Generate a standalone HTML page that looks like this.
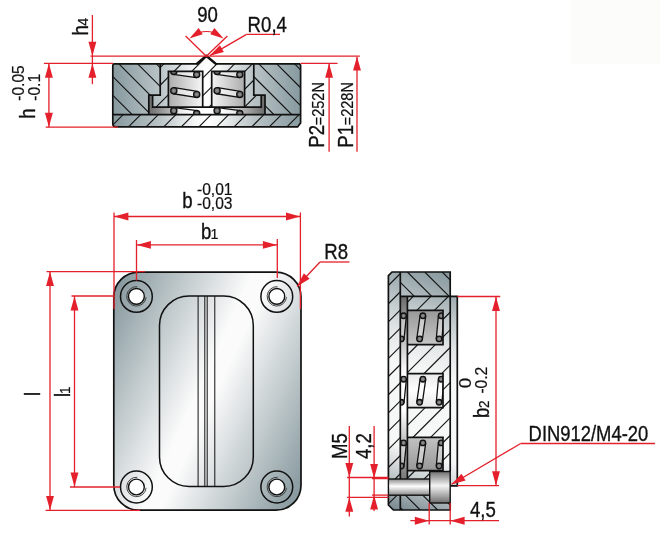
<!DOCTYPE html>
<html><head><meta charset="utf-8"><title>Drawing</title>
<style>
html,body{margin:0;padding:0;background:#fff;}
body{width:660px;height:537px;overflow:hidden;position:relative;}
svg{position:absolute;left:0;top:0;display:block;will-change:transform;}
text{font-family:"Liberation Sans",sans-serif;}
</style></head><body>
<svg width="660" height="537" viewBox="0 0 660 537">
<defs>
<linearGradient id="gTopBody" gradientUnits="userSpaceOnUse" x1="112.8" y1="0" x2="300.6" y2="0">
 <stop offset="0" stop-color="#879a9f"/><stop offset="0.25" stop-color="#b9c3c6"/><stop offset="0.43" stop-color="#f4f5f5"/><stop offset="0.5" stop-color="#ffffff"/><stop offset="0.57" stop-color="#f4f5f5"/><stop offset="0.75" stop-color="#b9c3c6"/><stop offset="1" stop-color="#879a9f"/>
</linearGradient>
<linearGradient id="gTopCup" gradientUnits="userSpaceOnUse" x1="148.6" y1="0" x2="265" y2="0">
 <stop offset="0" stop-color="#6a6a6a"/><stop offset="0.38" stop-color="#ffffff"/><stop offset="0.62" stop-color="#ffffff"/><stop offset="1" stop-color="#6a6a6a"/>
</linearGradient>
<linearGradient id="gTopPocket" gradientUnits="userSpaceOnUse" x1="160" y1="0" x2="253" y2="0">
 <stop offset="0" stop-color="#9a9a9a"/><stop offset="0.5" stop-color="#ffffff"/><stop offset="1" stop-color="#9a9a9a"/>
</linearGradient>
<linearGradient id="gPlate" gradientUnits="userSpaceOnUse" x1="85" y1="334" x2="329.8" y2="448.2">
 <stop offset="0" stop-color="#7f9298"/><stop offset="0.47" stop-color="#fbfbfb"/><stop offset="0.53" stop-color="#fbfbfb"/><stop offset="1" stop-color="#7f9298"/>
</linearGradient>
<linearGradient id="gSideBody" gradientUnits="userSpaceOnUse" x1="460" y1="272" x2="380" y2="510">
 <stop offset="0" stop-color="#82949a"/><stop offset="0.1" stop-color="#a0adb1"/><stop offset="0.2" stop-color="#c3cbce"/><stop offset="0.3" stop-color="#e1e5e6"/><stop offset="0.42" stop-color="#f6f7f7"/><stop offset="0.73" stop-color="#f6f7f7"/><stop offset="0.85" stop-color="#c0c8ca"/><stop offset="1" stop-color="#6e8087"/>
</linearGradient>
<linearGradient id="gSideCup" gradientUnits="userSpaceOnUse" x1="0" y1="296" x2="0" y2="486">
 <stop offset="0" stop-color="#6a6a6a"/><stop offset="0.4" stop-color="#ffffff"/><stop offset="0.6" stop-color="#ffffff"/><stop offset="1" stop-color="#6a6a6a"/>
</linearGradient>
<linearGradient id="gSidePocket" gradientUnits="userSpaceOnUse" x1="0" y1="300" x2="0" y2="480">
 <stop offset="0" stop-color="#8c8c8c"/><stop offset="0.5" stop-color="#ffffff"/><stop offset="1" stop-color="#8c8c8c"/>
</linearGradient>
<linearGradient id="gShaft" gradientUnits="userSpaceOnUse" x1="0" y1="479" x2="0" y2="495.2">
 <stop offset="0" stop-color="#8a8a8a"/><stop offset="0.45" stop-color="#ffffff"/><stop offset="1" stop-color="#8a8a8a"/>
</linearGradient>
<linearGradient id="gHead" gradientUnits="userSpaceOnUse" x1="0" y1="471.5" x2="0" y2="503">
 <stop offset="0" stop-color="#6e6e6e"/><stop offset="0.45" stop-color="#f4f4f4"/><stop offset="1" stop-color="#6e6e6e"/>
</linearGradient>
<radialGradient id="gWire" cx="0.5" cy="0.5" r="0.5">
 <stop offset="0" stop-color="#9a9a9a"/><stop offset="1" stop-color="#585858"/>
</radialGradient>

<clipPath id="cBody"><path d="M112.8,65.4 Q112.8,63.9 114.3,63.9 L196.9,63.9 L206.3,56.0 L215.7,63.9 L299.40000000000003,63.9 L300.6,65.1 L300.6,122.9 L297.6,126.9 L116.0,126.9 Q112.8,126.9 112.8,123.7 Z"/></clipPath>
<clipPath id="cTopBase"><polygon points="112.8,114.7 300.6,114.7 300.6,126.9 112.8,126.9"/></clipPath>
<clipPath id="cTopLout"><polygon points="112.8,63.9 160.2,63.9 160.2,95.1 148.8,95.1 148.8,114.7 112.8,114.7"/></clipPath>
<clipPath id="cTopRout"><polygon points="300.6,63.9 253.8,63.9 253.8,95.1 265,95.1 265,114.7 300.6,114.7"/></clipPath>
<clipPath id="cTopInner"><path clip-rule="evenodd" d="M160.2,63.9 L196.9,63.9 L206.3,56.0 L215.7,63.9 L253.8,63.9 L253.8,95.1 L261.2,95.1 L261.2,107.1 L152.6,107.1 L152.6,95.1 L160.2,95.1 Z M168.4,71.4 L202.7,71.4 L202.7,107.1 L168.4,107.1 Z M211.7,71.4 L244.6,71.4 L244.6,107.1 L211.7,107.1 Z"/></clipPath>
<clipPath id="cTopPockL"><rect x="168.4" y="71.4" width="34.29999999999998" height="43.3"/></clipPath>
<clipPath id="cTopPockR"><rect x="211.7" y="71.4" width="32.900000000000006" height="43.3"/></clipPath>
<clipPath id="cSideBase"><polygon points="388.4,275.6 392,272 400.3,272 400.3,510 393.4,510 388.4,505"/></clipPath>
<clipPath id="cSideTopOut"><rect x="400.3" y="272" width="49.9" height="24.4"/></clipPath>
<clipPath id="cSideBotOut"><path d="M400.3,495.2 L429.7,495.2 L429.7,503 L450.2,503 L450.2,510 L400.3,510 Z"/></clipPath>
<clipPath id="cSideInner"><path clip-rule="evenodd" d="M407.4,296.4 L450.2,296.4 L450.2,486 L407.4,486 Z M407.4,310.3 L443,310.3 L443,344.7 L407.4,344.7 Z M407.4,373.7 L443,373.7 L443,407.7 L407.4,407.7 Z M407.4,437.4 L443,437.4 L443,470.6 L407.4,470.6 Z"/></clipPath>
<clipPath id="cSidePock0"><rect x="400.3" y="310.3" width="42.69999999999999" height="34.39999999999998"/></clipPath>
<clipPath id="cSidePock1"><rect x="400.3" y="373.7" width="42.69999999999999" height="34.0"/></clipPath>
<clipPath id="cSidePock2"><rect x="400.3" y="437.4" width="42.69999999999999" height="33.200000000000045"/></clipPath>
</defs>
<rect x="571" y="0" width="89" height="64" fill="#fcfcfa"/>
<g id="topview">
<g clip-path="url(#cBody)">
<polygon points="112.8,114.7 300.6,114.7 300.6,126.9 112.8,126.9" fill="url(#gTopBody)"/>
<polygon points="112.8,63.9 160.2,63.9 160.2,95.1 148.8,95.1 148.8,114.7 112.8,114.7" fill="url(#gTopBody)"/>
<polygon points="300.6,63.9 253.8,63.9 253.8,95.1 265,95.1 265,114.7 300.6,114.7" fill="url(#gTopBody)"/>
<polygon points="160.2,63.9 196.9,63.9 206.3,56.0 215.7,63.9 253.8,63.9 253.8,95.1 261.2,95.1 261.2,107.1 152.6,107.1 152.6,95.1 160.2,95.1" fill="url(#gTopBody)"/>
<polygon points="148.8,95.1 152.6,95.1 152.6,107.1 261.2,107.1 261.2,95.1 265,95.1 265,114.7 148.8,114.7" fill="url(#gTopCup)"/>
<rect x="168.4" y="71.4" width="34.29999999999998" height="35.69999999999999" fill="url(#gTopPocket)"/>
<rect x="211.7" y="71.4" width="32.900000000000006" height="35.69999999999999" fill="url(#gTopPocket)"/>
<g clip-path="url(#cTopBase)" stroke="#111111" stroke-width="1.1" fill="none"><line x1="52.70" y1="114.7" x2="40.50" y2="126.9"/><line x1="70.30" y1="114.7" x2="58.10" y2="126.9"/><line x1="87.90" y1="114.7" x2="75.70" y2="126.9"/><line x1="105.50" y1="114.7" x2="93.30" y2="126.9"/><line x1="123.10" y1="114.7" x2="110.90" y2="126.9"/><line x1="140.70" y1="114.7" x2="128.50" y2="126.9"/><line x1="158.30" y1="114.7" x2="146.10" y2="126.9"/><line x1="175.90" y1="114.7" x2="163.70" y2="126.9"/><line x1="193.50" y1="114.7" x2="181.30" y2="126.9"/><line x1="211.10" y1="114.7" x2="198.90" y2="126.9"/><line x1="228.70" y1="114.7" x2="216.50" y2="126.9"/><line x1="246.30" y1="114.7" x2="234.10" y2="126.9"/><line x1="263.90" y1="114.7" x2="251.70" y2="126.9"/><line x1="281.50" y1="114.7" x2="269.30" y2="126.9"/><line x1="299.10" y1="114.7" x2="286.90" y2="126.9"/><line x1="316.70" y1="114.7" x2="304.50" y2="126.9"/><line x1="334.30" y1="114.7" x2="322.10" y2="126.9"/></g>
<g clip-path="url(#cTopLout)" stroke="#111111" stroke-width="1.1" fill="none"><line x1="6.40" y1="63.9" x2="57.20" y2="114.7"/><line x1="25.15" y1="63.9" x2="75.95" y2="114.7"/><line x1="43.90" y1="63.9" x2="94.70" y2="114.7"/><line x1="62.65" y1="63.9" x2="113.45" y2="114.7"/><line x1="81.40" y1="63.9" x2="132.20" y2="114.7"/><line x1="100.15" y1="63.9" x2="150.95" y2="114.7"/><line x1="118.90" y1="63.9" x2="169.70" y2="114.7"/><line x1="137.65" y1="63.9" x2="188.45" y2="114.7"/><line x1="156.40" y1="63.9" x2="207.20" y2="114.7"/><line x1="175.15" y1="63.9" x2="225.95" y2="114.7"/><line x1="193.90" y1="63.9" x2="244.70" y2="114.7"/><line x1="212.65" y1="63.9" x2="263.45" y2="114.7"/><line x1="231.40" y1="63.9" x2="282.20" y2="114.7"/></g>
<g clip-path="url(#cTopRout)" stroke="#111111" stroke-width="1.1" fill="none"><line x1="151.80" y1="63.9" x2="202.60" y2="114.7"/><line x1="169.65" y1="63.9" x2="220.45" y2="114.7"/><line x1="187.50" y1="63.9" x2="238.30" y2="114.7"/><line x1="205.35" y1="63.9" x2="256.15" y2="114.7"/><line x1="223.20" y1="63.9" x2="274.00" y2="114.7"/><line x1="241.05" y1="63.9" x2="291.85" y2="114.7"/><line x1="258.90" y1="63.9" x2="309.70" y2="114.7"/><line x1="276.75" y1="63.9" x2="327.55" y2="114.7"/><line x1="294.60" y1="63.9" x2="345.40" y2="114.7"/><line x1="312.45" y1="63.9" x2="363.25" y2="114.7"/><line x1="330.30" y1="63.9" x2="381.10" y2="114.7"/><line x1="348.15" y1="63.9" x2="398.95" y2="114.7"/><line x1="366.00" y1="63.9" x2="416.80" y2="114.7"/><line x1="383.85" y1="63.9" x2="434.65" y2="114.7"/></g>
<g clip-path="url(#cTopInner)" stroke="#111111" stroke-width="1.1" fill="none"><line x1="49.80" y1="54" x2="-3.30" y2="107.1"/><line x1="67.50" y1="54" x2="14.40" y2="107.1"/><line x1="85.20" y1="54" x2="32.10" y2="107.1"/><line x1="102.90" y1="54" x2="49.80" y2="107.1"/><line x1="120.60" y1="54" x2="67.50" y2="107.1"/><line x1="138.30" y1="54" x2="85.20" y2="107.1"/><line x1="156.00" y1="54" x2="102.90" y2="107.1"/><line x1="173.70" y1="54" x2="120.60" y2="107.1"/><line x1="191.40" y1="54" x2="138.30" y2="107.1"/><line x1="209.10" y1="54" x2="156.00" y2="107.1"/><line x1="226.80" y1="54" x2="173.70" y2="107.1"/><line x1="244.50" y1="54" x2="191.40" y2="107.1"/><line x1="262.20" y1="54" x2="209.10" y2="107.1"/><line x1="279.90" y1="54" x2="226.80" y2="107.1"/><line x1="297.60" y1="54" x2="244.50" y2="107.1"/><line x1="315.30" y1="54" x2="262.20" y2="107.1"/><line x1="333.00" y1="54" x2="279.90" y2="107.1"/></g>
</g>
<g clip-path="url(#cTopPockL)"><polygon points="173.37,74.47 196.27,77.67 197.13,71.53 174.23,68.33" fill="rgba(255,255,255,0.5)" stroke="#111111" stroke-width="1.3" stroke-linejoin="round"/><polygon points="173.31,93.76 196.21,97.46 197.19,91.34 174.29,87.64" fill="rgba(255,255,255,0.5)" stroke="#111111" stroke-width="1.3" stroke-linejoin="round"/><polygon points="173.41,113.78 196.31,116.68 197.09,110.52 174.19,107.62" fill="rgba(255,255,255,0.5)" stroke="#111111" stroke-width="1.3" stroke-linejoin="round"/><circle cx="173.8" cy="71.4" r="3.1" fill="url(#gWire)" stroke="#111111" stroke-width="1.3"/><circle cx="173.8" cy="90.7" r="3.1" fill="url(#gWire)" stroke="#111111" stroke-width="1.3"/><circle cx="173.8" cy="110.7" r="3.1" fill="url(#gWire)" stroke="#111111" stroke-width="1.3"/><circle cx="196.7" cy="74.6" r="3.1" fill="url(#gWire)" stroke="#111111" stroke-width="1.3"/><circle cx="196.7" cy="94.4" r="3.1" fill="url(#gWire)" stroke="#111111" stroke-width="1.3"/><circle cx="196.7" cy="113.6" r="3.1" fill="url(#gWire)" stroke="#111111" stroke-width="1.3"/></g>
<g clip-path="url(#cTopPockR)"><polygon points="216.67,74.47 239.37,77.67 240.23,71.53 217.53,68.33" fill="rgba(255,255,255,0.5)" stroke="#111111" stroke-width="1.3" stroke-linejoin="round"/><polygon points="216.60,93.76 239.30,97.46 240.30,91.34 217.60,87.64" fill="rgba(255,255,255,0.5)" stroke="#111111" stroke-width="1.3" stroke-linejoin="round"/><polygon points="216.71,113.78 239.41,116.68 240.19,110.52 217.49,107.62" fill="rgba(255,255,255,0.5)" stroke="#111111" stroke-width="1.3" stroke-linejoin="round"/><circle cx="217.1" cy="71.4" r="3.1" fill="url(#gWire)" stroke="#111111" stroke-width="1.3"/><circle cx="217.1" cy="90.7" r="3.1" fill="url(#gWire)" stroke="#111111" stroke-width="1.3"/><circle cx="217.1" cy="110.7" r="3.1" fill="url(#gWire)" stroke="#111111" stroke-width="1.3"/><circle cx="239.8" cy="74.6" r="3.1" fill="url(#gWire)" stroke="#111111" stroke-width="1.3"/><circle cx="239.8" cy="94.4" r="3.1" fill="url(#gWire)" stroke="#111111" stroke-width="1.3"/><circle cx="239.8" cy="113.6" r="3.1" fill="url(#gWire)" stroke="#111111" stroke-width="1.3"/></g>
<g fill="none" stroke="#111111" stroke-width="1.7" stroke-linejoin="miter">
<path d="M112.8,65.4 Q112.8,63.9 114.3,63.9 L196.9,63.9 L206.3,56.0 L215.7,63.9 L299.40000000000003,63.9 L300.6,65.1 L300.6,122.9 L297.6,126.9 L116.0,126.9 Q112.8,126.9 112.8,123.7 Z"/>
<path d="M112.8,114.7 L300.6,114.7"/>
<path d="M160.2,63.9 L160.2,95.1 L148.8,95.1 L148.8,114.7"/>
<path d="M253.8,63.9 L253.8,95.1 L265,95.1 L265,114.7"/>
<path d="M152.6,95.1 L152.6,107.1 L261.2,107.1 L261.2,95.1"/>
<path d="M168.4,107.1 L168.4,71.4 L202.7,71.4 L202.7,107.1 M211.7,107.1 L211.7,71.4 L244.6,71.4 L244.6,107.1"/>
</g>
<path d="M196.4,64.2 L206.3,55.8 L216.2,64.2" fill="none" stroke="#111111" stroke-width="2.3" stroke-linejoin="miter"/>
</g>
<g id="topdims">
<line x1="90.4" y1="56.2" x2="359.8" y2="56.2" stroke="#e3202b" stroke-width="1.3"/>
<line x1="43.9" y1="63.4" x2="113" y2="63.4" stroke="#e3202b" stroke-width="1.3"/>
<line x1="300.5" y1="63.4" x2="337.6" y2="63.4" stroke="#e3202b" stroke-width="1.3"/>
<line x1="45.7" y1="127.2" x2="118" y2="127.2" stroke="#e3202b" stroke-width="1.3"/>
<line x1="48.9" y1="63.4" x2="48.9" y2="127.2" stroke="#e3202b" stroke-width="1.3"/>
<polygon points="48.90,63.60 52.85,77.80 44.95,77.80" fill="#e3202b"/>
<polygon points="48.90,127.00 44.95,112.80 52.85,112.80" fill="#e3202b"/>
<line x1="92.4" y1="15" x2="92.4" y2="84.2" stroke="#e3202b" stroke-width="1.3"/>
<polygon points="92.40,56.00 88.45,41.80 96.35,41.80" fill="#e3202b"/>
<polygon points="92.40,63.60 96.35,77.80 88.45,77.80" fill="#e3202b"/>
<line x1="329.1" y1="64" x2="329.1" y2="151.7" stroke="#e3202b" stroke-width="1.3"/>
<polygon points="329.10,63.60 333.05,77.80 325.15,77.80" fill="#e3202b"/>
<line x1="357" y1="57" x2="357" y2="151.7" stroke="#e3202b" stroke-width="1.3"/>
<polygon points="357.00,56.40 360.95,70.60 353.05,70.60" fill="#e3202b"/>
<line x1="206.3" y1="56.2" x2="185.6" y2="36.0" stroke="#e3202b" stroke-width="1.3"/>
<line x1="206.3" y1="56.2" x2="227.4" y2="36.0" stroke="#e3202b" stroke-width="1.3"/>
<path d="M193,35.5 A25,25 0 0 1 220,35.5" fill="none" stroke="#e3202b" stroke-width="1.15"/>
<polygon points="189.40,38.60 198.63,28.08 202.71,34.25" fill="#e3202b"/>
<polygon points="223.60,38.60 210.29,34.25 214.37,28.08" fill="#e3202b"/>
<line x1="246.5" y1="34.4" x2="280" y2="34.4" stroke="#e3202b" stroke-width="1.3"/>
<line x1="246.5" y1="34.4" x2="209.9" y2="55.6" stroke="#e3202b" stroke-width="1.3"/>
<polygon points="209.60,55.80 219.91,45.26 223.87,52.10" fill="#e3202b"/>
</g>
<g id="plate">
<rect x="113.8" y="272.1" width="187.2" height="238.1" rx="25" ry="25" fill="url(#gPlate)" stroke="#111111" stroke-width="1.7"/>
<rect x="159.5" y="296" width="93.8" height="190.4" rx="29.5" ry="29.5" fill="none" stroke="#111111" stroke-width="1.5"/>
<line x1="198.1" y1="296" x2="198.1" y2="486.4" stroke="#111111" stroke-width="1.0"/>
<line x1="204.8" y1="296" x2="204.8" y2="486.4" stroke="#111111" stroke-width="1.0"/>
<line x1="207.2" y1="296" x2="207.2" y2="486.4" stroke="#111111" stroke-width="1.0"/>
<line x1="214.8" y1="296" x2="214.8" y2="486.4" stroke="#111111" stroke-width="1.0"/>
<circle cx="136.4" cy="296.4" r="15.9" fill="none" stroke="#111111" stroke-width="1.5"/>
<path d="M137.20,286.70 A9.7,9.7 0 1 0 146.10,297.20" fill="none" stroke="#333" stroke-width="0.9"/>
<circle cx="136.4" cy="296.4" r="7.9" fill="#ffffff" stroke="#111111" stroke-width="1.4"/>
<circle cx="276.8" cy="296.4" r="15.9" fill="none" stroke="#111111" stroke-width="1.5"/>
<path d="M277.60,286.70 A9.7,9.7 0 1 0 286.50,297.20" fill="none" stroke="#333" stroke-width="0.9"/>
<circle cx="276.8" cy="296.4" r="7.9" fill="#ffffff" stroke="#111111" stroke-width="1.4"/>
<circle cx="136.4" cy="487" r="15.9" fill="none" stroke="#111111" stroke-width="1.5"/>
<path d="M137.20,477.30 A9.7,9.7 0 1 0 146.10,487.80" fill="none" stroke="#333" stroke-width="0.9"/>
<circle cx="136.4" cy="487" r="7.9" fill="#ffffff" stroke="#111111" stroke-width="1.4"/>
<circle cx="276.8" cy="487" r="15.9" fill="none" stroke="#111111" stroke-width="1.5"/>
<path d="M277.60,477.30 A9.7,9.7 0 1 0 286.50,487.80" fill="none" stroke="#333" stroke-width="0.9"/>
<circle cx="276.8" cy="487" r="7.9" fill="#ffffff" stroke="#111111" stroke-width="1.4"/>
</g>
<g id="platedims">
<line x1="114" y1="212.5" x2="114" y2="309" stroke="#e3202b" stroke-width="1.3"/>
<line x1="300.4" y1="212.5" x2="300.4" y2="309" stroke="#e3202b" stroke-width="1.3"/>
<line x1="114" y1="216.5" x2="300.4" y2="216.5" stroke="#e3202b" stroke-width="1.3"/>
<polygon points="114.20,216.50 128.40,212.55 128.40,220.45" fill="#e3202b"/>
<polygon points="300.20,216.50 286.00,220.45 286.00,212.55" fill="#e3202b"/>
<line x1="136.5" y1="240" x2="136.5" y2="280.5" stroke="#e3202b" stroke-width="1.3"/>
<line x1="277.3" y1="239" x2="277.3" y2="278" stroke="#e3202b" stroke-width="1.3"/>
<line x1="136.5" y1="244.9" x2="277.3" y2="244.9" stroke="#e3202b" stroke-width="1.3"/>
<polygon points="136.70,244.90 150.90,240.95 150.90,248.85" fill="#e3202b"/>
<polygon points="277.10,244.90 262.90,248.85 262.90,240.95" fill="#e3202b"/>
<line x1="46.5" y1="271.6" x2="145" y2="271.6" stroke="#e3202b" stroke-width="1.3"/>
<line x1="45.5" y1="510.3" x2="140" y2="510.3" stroke="#e3202b" stroke-width="1.3"/>
<line x1="50" y1="271.6" x2="50" y2="510.3" stroke="#e3202b" stroke-width="1.3"/>
<polygon points="50.00,271.80 53.95,286.00 46.05,286.00" fill="#e3202b"/>
<polygon points="50.00,510.10 46.05,495.90 53.95,495.90" fill="#e3202b"/>
<line x1="71.5" y1="296" x2="114" y2="296" stroke="#e3202b" stroke-width="1.3"/>
<line x1="70" y1="487" x2="120" y2="487" stroke="#e3202b" stroke-width="1.3"/>
<line x1="74.5" y1="296" x2="74.5" y2="487" stroke="#e3202b" stroke-width="1.3"/>
<polygon points="74.50,296.20 78.45,310.40 70.55,310.40" fill="#e3202b"/>
<polygon points="74.50,486.80 70.55,472.60 78.45,472.60" fill="#e3202b"/>
<line x1="320" y1="262" x2="349.5" y2="262" stroke="#e3202b" stroke-width="1.3"/>
<line x1="320" y1="262" x2="297.2" y2="286.2" stroke="#e3202b" stroke-width="1.3"/>
<polygon points="297.00,286.40 303.86,273.36 309.61,278.77" fill="#e3202b"/>
</g>
<g id="sideview">
<polygon points="388.4,275.6 392,272 400.3,272 400.3,510 393.4,510 388.4,505" fill="url(#gSideBody)"/>
<rect x="400.3" y="272" width="49.9" height="24.4" fill="url(#gSideBody)"/>
<rect x="400.3" y="486" width="49.9" height="24" fill="url(#gSideBody)"/>
<rect x="407.4" y="296.4" width="49.9" height="189.4" fill="url(#gSideBody)"/>
<rect x="400.3" y="296.4" width="7.1" height="189.6" fill="url(#gSideCup)"/>
<rect x="407.4" y="310.3" width="35.6" height="34.39999999999998" fill="url(#gSidePocket)"/>
<rect x="407.4" y="373.7" width="35.6" height="34.0" fill="url(#gSidePocket)"/>
<rect x="407.4" y="437.4" width="35.6" height="33.200000000000045" fill="url(#gSidePocket)"/>
<g clip-path="url(#cSideBase)" stroke="#111111" stroke-width="1.1" fill="none"><line x1="110.70" y1="272" x2="-127.30" y2="510"/><line x1="128.90" y1="272" x2="-109.10" y2="510"/><line x1="147.10" y1="272" x2="-90.90" y2="510"/><line x1="165.30" y1="272" x2="-72.70" y2="510"/><line x1="183.50" y1="272" x2="-54.50" y2="510"/><line x1="201.70" y1="272" x2="-36.30" y2="510"/><line x1="219.90" y1="272" x2="-18.10" y2="510"/><line x1="238.10" y1="272" x2="0.10" y2="510"/><line x1="256.30" y1="272" x2="18.30" y2="510"/><line x1="274.50" y1="272" x2="36.50" y2="510"/><line x1="292.70" y1="272" x2="54.70" y2="510"/><line x1="310.90" y1="272" x2="72.90" y2="510"/><line x1="329.10" y1="272" x2="91.10" y2="510"/><line x1="347.30" y1="272" x2="109.30" y2="510"/><line x1="365.50" y1="272" x2="127.50" y2="510"/><line x1="383.70" y1="272" x2="145.70" y2="510"/><line x1="401.90" y1="272" x2="163.90" y2="510"/><line x1="420.10" y1="272" x2="182.10" y2="510"/><line x1="438.30" y1="272" x2="200.30" y2="510"/><line x1="456.50" y1="272" x2="218.50" y2="510"/><line x1="474.70" y1="272" x2="236.70" y2="510"/><line x1="492.90" y1="272" x2="254.90" y2="510"/><line x1="511.10" y1="272" x2="273.10" y2="510"/><line x1="529.30" y1="272" x2="291.30" y2="510"/><line x1="547.50" y1="272" x2="309.50" y2="510"/><line x1="565.70" y1="272" x2="327.70" y2="510"/><line x1="583.90" y1="272" x2="345.90" y2="510"/><line x1="602.10" y1="272" x2="364.10" y2="510"/><line x1="620.30" y1="272" x2="382.30" y2="510"/><line x1="638.50" y1="272" x2="400.50" y2="510"/><line x1="656.70" y1="272" x2="418.70" y2="510"/><line x1="674.90" y1="272" x2="436.90" y2="510"/></g>
<g clip-path="url(#cSideTopOut)" stroke="#111111" stroke-width="1.1" fill="none"><line x1="337.80" y1="272" x2="362.20" y2="296.4"/><line x1="355.20" y1="272" x2="379.60" y2="296.4"/><line x1="372.60" y1="272" x2="397.00" y2="296.4"/><line x1="390.00" y1="272" x2="414.40" y2="296.4"/><line x1="407.40" y1="272" x2="431.80" y2="296.4"/><line x1="424.80" y1="272" x2="449.20" y2="296.4"/><line x1="442.20" y1="272" x2="466.60" y2="296.4"/><line x1="459.60" y1="272" x2="484.00" y2="296.4"/><line x1="477.00" y1="272" x2="501.40" y2="296.4"/><line x1="494.40" y1="272" x2="518.80" y2="296.4"/></g>
<g clip-path="url(#cSideBotOut)" stroke="#111111" stroke-width="1.1" fill="none"><line x1="326.60" y1="486" x2="350.60" y2="510"/><line x1="344.00" y1="486" x2="368.00" y2="510"/><line x1="361.40" y1="486" x2="385.40" y2="510"/><line x1="378.80" y1="486" x2="402.80" y2="510"/><line x1="396.20" y1="486" x2="420.20" y2="510"/><line x1="413.60" y1="486" x2="437.60" y2="510"/><line x1="431.00" y1="486" x2="455.00" y2="510"/><line x1="448.40" y1="486" x2="472.40" y2="510"/><line x1="465.80" y1="486" x2="489.80" y2="510"/><line x1="483.20" y1="486" x2="507.20" y2="510"/><line x1="500.60" y1="486" x2="524.60" y2="510"/></g>
<g clip-path="url(#cSideInner)" stroke="#111111" stroke-width="1.1" fill="none"><line x1="166.80" y1="296.4" x2="-22.80" y2="486"/><line x1="184.40" y1="296.4" x2="-5.20" y2="486"/><line x1="202.00" y1="296.4" x2="12.40" y2="486"/><line x1="219.60" y1="296.4" x2="30.00" y2="486"/><line x1="237.20" y1="296.4" x2="47.60" y2="486"/><line x1="254.80" y1="296.4" x2="65.20" y2="486"/><line x1="272.40" y1="296.4" x2="82.80" y2="486"/><line x1="290.00" y1="296.4" x2="100.40" y2="486"/><line x1="307.60" y1="296.4" x2="118.00" y2="486"/><line x1="325.20" y1="296.4" x2="135.60" y2="486"/><line x1="342.80" y1="296.4" x2="153.20" y2="486"/><line x1="360.40" y1="296.4" x2="170.80" y2="486"/><line x1="378.00" y1="296.4" x2="188.40" y2="486"/><line x1="395.60" y1="296.4" x2="206.00" y2="486"/><line x1="413.20" y1="296.4" x2="223.60" y2="486"/><line x1="430.80" y1="296.4" x2="241.20" y2="486"/><line x1="448.40" y1="296.4" x2="258.80" y2="486"/><line x1="466.00" y1="296.4" x2="276.40" y2="486"/><line x1="483.60" y1="296.4" x2="294.00" y2="486"/><line x1="501.20" y1="296.4" x2="311.60" y2="486"/><line x1="518.80" y1="296.4" x2="329.20" y2="486"/><line x1="536.40" y1="296.4" x2="346.80" y2="486"/><line x1="554.00" y1="296.4" x2="364.40" y2="486"/><line x1="571.60" y1="296.4" x2="382.00" y2="486"/><line x1="589.20" y1="296.4" x2="399.60" y2="486"/><line x1="606.80" y1="296.4" x2="417.20" y2="486"/><line x1="624.40" y1="296.4" x2="434.80" y2="486"/><line x1="642.00" y1="296.4" x2="452.40" y2="486"/><line x1="659.60" y1="296.4" x2="470.00" y2="486"/></g>
<g clip-path="url(#cSidePock0)"><polygon points="400.81,315.51 398.41,338.61 403.99,339.19 406.39,316.09" fill="rgba(255,255,255,0.4)" stroke="#111111" stroke-width="1.3" stroke-linejoin="round"/><polygon points="420.13,315.40 416.83,338.50 422.37,339.30 425.67,316.20" fill="rgba(255,255,255,0.4)" stroke="#111111" stroke-width="1.3" stroke-linejoin="round"/><polygon points="438.41,315.55 436.31,338.65 441.89,339.15 443.99,316.05" fill="rgba(255,255,255,0.4)" stroke="#111111" stroke-width="1.3" stroke-linejoin="round"/><circle cx="403.6" cy="315.8" r="2.8" fill="url(#gWire)" stroke="#111111" stroke-width="1.3"/><circle cx="422.9" cy="315.8" r="2.8" fill="url(#gWire)" stroke="#111111" stroke-width="1.3"/><circle cx="441.2" cy="315.8" r="2.8" fill="url(#gWire)" stroke="#111111" stroke-width="1.3"/><circle cx="401.2" cy="338.90000000000003" r="2.8" fill="url(#gWire)" stroke="#111111" stroke-width="1.3"/><circle cx="419.6" cy="338.90000000000003" r="2.8" fill="url(#gWire)" stroke="#111111" stroke-width="1.3"/><circle cx="439.1" cy="338.90000000000003" r="2.8" fill="url(#gWire)" stroke="#111111" stroke-width="1.3"/></g>
<g clip-path="url(#cSidePock1)"><polygon points="400.81,378.91 398.41,402.01 403.99,402.59 406.39,379.49" fill="rgba(255,255,255,0.4)" stroke="#111111" stroke-width="1.3" stroke-linejoin="round"/><polygon points="420.13,378.80 416.83,401.90 422.37,402.70 425.67,379.60" fill="rgba(255,255,255,0.4)" stroke="#111111" stroke-width="1.3" stroke-linejoin="round"/><polygon points="438.41,378.95 436.31,402.05 441.89,402.55 443.99,379.45" fill="rgba(255,255,255,0.4)" stroke="#111111" stroke-width="1.3" stroke-linejoin="round"/><circle cx="403.6" cy="379.2" r="2.8" fill="url(#gWire)" stroke="#111111" stroke-width="1.3"/><circle cx="422.9" cy="379.2" r="2.8" fill="url(#gWire)" stroke="#111111" stroke-width="1.3"/><circle cx="441.2" cy="379.2" r="2.8" fill="url(#gWire)" stroke="#111111" stroke-width="1.3"/><circle cx="401.2" cy="402.3" r="2.8" fill="url(#gWire)" stroke="#111111" stroke-width="1.3"/><circle cx="419.6" cy="402.3" r="2.8" fill="url(#gWire)" stroke="#111111" stroke-width="1.3"/><circle cx="439.1" cy="402.3" r="2.8" fill="url(#gWire)" stroke="#111111" stroke-width="1.3"/></g>
<g clip-path="url(#cSidePock2)"><polygon points="400.81,442.61 398.41,465.71 403.99,466.29 406.39,443.19" fill="rgba(255,255,255,0.4)" stroke="#111111" stroke-width="1.3" stroke-linejoin="round"/><polygon points="420.13,442.50 416.83,465.60 422.37,466.40 425.67,443.30" fill="rgba(255,255,255,0.4)" stroke="#111111" stroke-width="1.3" stroke-linejoin="round"/><polygon points="438.41,442.65 436.31,465.75 441.89,466.25 443.99,443.15" fill="rgba(255,255,255,0.4)" stroke="#111111" stroke-width="1.3" stroke-linejoin="round"/><circle cx="403.6" cy="442.9" r="2.8" fill="url(#gWire)" stroke="#111111" stroke-width="1.3"/><circle cx="422.9" cy="442.9" r="2.8" fill="url(#gWire)" stroke="#111111" stroke-width="1.3"/><circle cx="441.2" cy="442.9" r="2.8" fill="url(#gWire)" stroke="#111111" stroke-width="1.3"/><circle cx="401.2" cy="466.0" r="2.8" fill="url(#gWire)" stroke="#111111" stroke-width="1.3"/><circle cx="419.6" cy="466.0" r="2.8" fill="url(#gWire)" stroke="#111111" stroke-width="1.3"/><circle cx="439.1" cy="466.0" r="2.8" fill="url(#gWire)" stroke="#111111" stroke-width="1.3"/></g>
<rect x="388.4" y="479" width="41.3" height="16.2" fill="url(#gShaft)" stroke="#111111" stroke-width="1.4"/>
<rect x="429.7" y="471.5" width="20.5" height="31.5" fill="url(#gHead)" stroke="#111111" stroke-width="1.4"/>
<g fill="none" stroke="#111111" stroke-width="1.7" stroke-linejoin="miter">
<path d="M388.4,479 L388.4,275.6 L392,272 L450.2,272 L450.2,296.4 L457.3,296.4 L457.3,485.8 L450.2,485.8"/>
<path d="M388.4,495.2 L388.4,505 L393.4,510 L450.2,510 L450.2,503"/>
<path d="M400.3,272 L400.3,479 M400.3,495.2 L400.3,510"/>
<path d="M400.3,296.4 L450.2,296.4"/>
<path d="M407.4,296.4 L407.4,479"/>
<path d="M450.2,296.4 L450.2,471.5"/>
<path d="M407.4,310.3 L443,310.3 L443,344.7 L407.4,344.7"/>
<path d="M407.4,373.7 L443,373.7 L443,407.7 L407.4,407.7"/>
<path d="M407.4,437.4 L443,437.4 L443,470.6 L407.4,470.6"/>
</g>
</g>
<g id="sidedims">
<line x1="457.3" y1="296.5" x2="500.2" y2="296.5" stroke="#e3202b" stroke-width="1.3"/>
<line x1="457.3" y1="485.6" x2="499" y2="485.6" stroke="#e3202b" stroke-width="1.3"/>
<line x1="496" y1="296.5" x2="496" y2="485.6" stroke="#e3202b" stroke-width="1.3"/>
<polygon points="496.00,296.70 499.95,310.90 492.05,310.90" fill="#e3202b"/>
<polygon points="496.00,485.40 492.05,471.20 499.95,471.20" fill="#e3202b"/>
<line x1="520.7" y1="443.5" x2="655" y2="443.5" stroke="#e3202b" stroke-width="1.3"/>
<line x1="520.7" y1="443.5" x2="451.6" y2="484.2" stroke="#e3202b" stroke-width="1.3"/>
<polygon points="451.30,484.40 461.53,473.79 465.54,480.60" fill="#e3202b"/>
<line x1="429.2" y1="503" x2="429.2" y2="524.4" stroke="#e3202b" stroke-width="1.3"/>
<line x1="450.2" y1="503" x2="450.2" y2="524.4" stroke="#e3202b" stroke-width="1.3"/>
<line x1="410.4" y1="520.7" x2="499" y2="520.7" stroke="#e3202b" stroke-width="1.3"/>
<polygon points="429.00,520.70 414.80,524.65 414.80,516.75" fill="#e3202b"/>
<polygon points="450.40,520.70 464.60,516.75 464.60,524.65" fill="#e3202b"/>
<line x1="349.3" y1="426" x2="349.3" y2="516.4" stroke="#e3202b" stroke-width="1.3"/>
<line x1="347.1" y1="477.5" x2="388.4" y2="477.5" stroke="#e3202b" stroke-width="1.3"/>
<line x1="347.1" y1="497.3" x2="388.4" y2="497.3" stroke="#e3202b" stroke-width="1.3"/>
<polygon points="349.30,477.30 345.35,463.10 353.25,463.10" fill="#e3202b"/>
<polygon points="349.30,497.50 353.25,511.70 345.35,511.70" fill="#e3202b"/>
<line x1="374.1" y1="426" x2="374.1" y2="511" stroke="#e3202b" stroke-width="1.3"/>
<line x1="372" y1="478.6" x2="388.4" y2="478.6" stroke="#e3202b" stroke-width="1.3"/>
<line x1="372" y1="495.1" x2="388.4" y2="495.1" stroke="#e3202b" stroke-width="1.3"/>
<polygon points="374.10,478.20 370.15,464.00 378.05,464.00" fill="#e3202b"/>
<polygon points="374.10,495.30 378.05,509.50 370.15,509.50" fill="#e3202b"/>
</g>
<g id="labels">
<text transform="translate(207.5,21.8) scale(0.835,1)" font-size="22.3" text-anchor="middle" fill="#111" stroke="#111" stroke-width="0.35">90</text>
<text transform="translate(247.6,31.8) scale(0.835,1)" font-size="22.3" text-anchor="start" fill="#111" stroke="#111" stroke-width="0.35">R0,4</text>
<text transform="translate(88.4,35.6) rotate(-90) scale(0.835,1)" font-size="22.3" text-anchor="start" fill="#111" stroke="#111" stroke-width="0.35">h</text>
<text transform="translate(88.4,25.8) rotate(-90) scale(0.95,1)" font-size="15" text-anchor="start" fill="#111" stroke="#111" stroke-width="0.2">4</text>
<text transform="translate(34.6,118.8) rotate(-90) scale(0.835,1)" font-size="22.3" text-anchor="start" fill="#111" stroke="#111" stroke-width="0.35">h</text>
<text transform="translate(24.2,100.8) rotate(-90)" font-size="15.6" text-anchor="start" fill="#111" stroke="#111" stroke-width="0.2">-0.05</text>
<text transform="translate(39.7,100.8) rotate(-90)" font-size="15.6" text-anchor="start" fill="#111" stroke="#111" stroke-width="0.2">-0.1</text>
<text transform="translate(324.3,147.7) rotate(-90) scale(0.835,1)" font-size="22.3" text-anchor="start" fill="#111" stroke="#111" stroke-width="0.35">P2</text>
<text transform="translate(324.3,125.3) rotate(-90) scale(0.875,1)" font-size="16.6" text-anchor="start" fill="#111" stroke="#111" stroke-width="0.2">=252N</text>
<text transform="translate(353.1,147.7) rotate(-90) scale(0.835,1)" font-size="22.3" text-anchor="start" fill="#111" stroke="#111" stroke-width="0.35">P1</text>
<text transform="translate(353.1,125.3) rotate(-90) scale(0.875,1)" font-size="16.6" text-anchor="start" fill="#111" stroke="#111" stroke-width="0.2">=228N</text>
<text transform="translate(182.3,207.5) scale(0.835,1)" font-size="22.3" text-anchor="start" fill="#111" stroke="#111" stroke-width="0.35">b</text>
<text transform="translate(197,195)" font-size="15.6" text-anchor="start" fill="#111" stroke="#111" stroke-width="0.2">-0,01</text>
<text transform="translate(197,208.5)" font-size="15.6" text-anchor="start" fill="#111" stroke="#111" stroke-width="0.2">-0,03</text>
<text transform="translate(201,238.6) scale(0.835,1)" font-size="22.3" text-anchor="start" fill="#111" stroke="#111" stroke-width="0.35">b</text>
<text transform="translate(210.6,238.6) scale(0.95,1)" font-size="15" text-anchor="start" fill="#111" stroke="#111" stroke-width="0.2">1</text>
<text transform="translate(324.2,258.8) scale(0.835,1)" font-size="22.3" text-anchor="start" fill="#111" stroke="#111" stroke-width="0.35">R8</text>
<text transform="translate(39.9,396) rotate(-90) scale(0.835,1)" font-size="22.3" text-anchor="start" fill="#111" stroke="#111" stroke-width="0.35">l</text>
<text transform="translate(70,397) rotate(-90) scale(0.835,1)" font-size="22.3" text-anchor="start" fill="#111" stroke="#111" stroke-width="0.35">l</text>
<text transform="translate(70,394) rotate(-90) scale(0.9,1)" font-size="15" text-anchor="start" fill="#111" stroke="#111" stroke-width="0.2">1</text>
<text transform="translate(489.2,418) rotate(-90) scale(0.835,1)" font-size="22.3" text-anchor="start" fill="#111" stroke="#111" stroke-width="0.35">b</text>
<text transform="translate(489.2,408) rotate(-90) scale(0.9,1)" font-size="15" text-anchor="start" fill="#111" stroke="#111" stroke-width="0.2">2</text>
<text transform="translate(471.4,388.2) rotate(-90) scale(1.2,1)" font-size="15.6" text-anchor="start" fill="#111" stroke="#111" stroke-width="0.2">0</text>
<text transform="translate(487,393.6) rotate(-90)" font-size="15.6" text-anchor="start" fill="#111" stroke="#111" stroke-width="0.2">-0.2</text>
<text transform="translate(528.6,440.7) scale(0.826,1)" font-size="22.3" text-anchor="start" fill="#111" stroke="#111" stroke-width="0.35">DIN912/M4-20</text>
<text transform="translate(470,517) scale(0.835,1)" font-size="22.3" text-anchor="start" fill="#111" stroke="#111" stroke-width="0.35">4,5</text>
<text transform="translate(347.3,459.1) rotate(-90) scale(0.835,1)" font-size="22.3" text-anchor="start" fill="#111" stroke="#111" stroke-width="0.35">M5</text>
<text transform="translate(371,459.1) rotate(-90) scale(0.835,1)" font-size="22.3" text-anchor="start" fill="#111" stroke="#111" stroke-width="0.35">4,2</text>
</g>
</svg></body></html>
